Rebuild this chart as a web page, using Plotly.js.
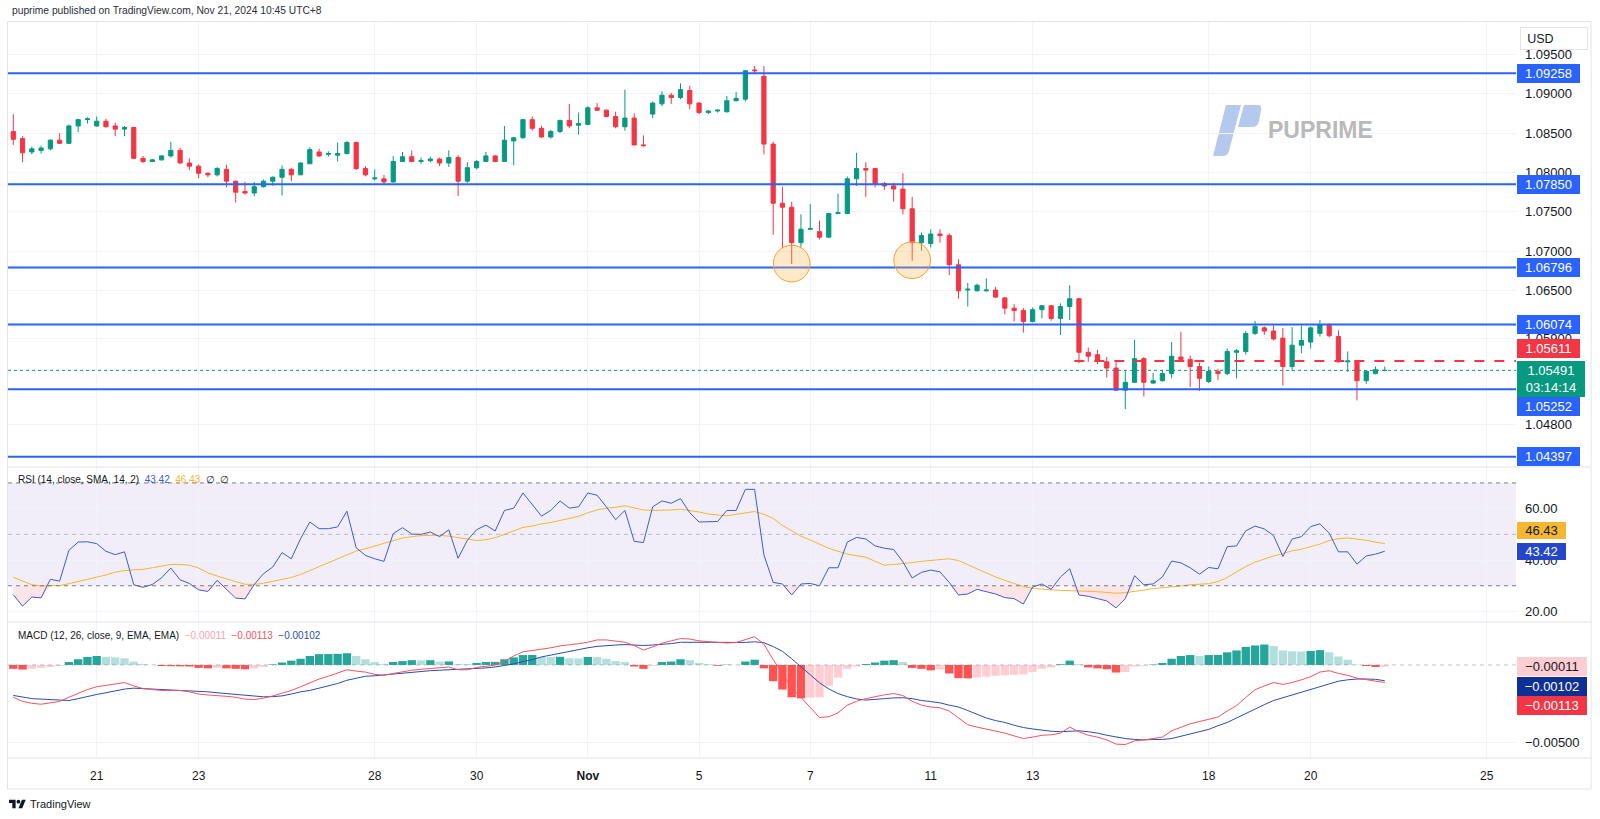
<!DOCTYPE html>
<html><head><meta charset="utf-8">
<script src="https://cdn.plot.ly/plotly-3.0.1.min.js"></script>
<style>html,body{margin:0;padding:0;background:#fff;}#chart{width:1600px;height:819px;}</style>
</head><body><div id="chart"></div>
<script>
// ---- EURUSD 4H candles (Oct 17 17:00 -> Nov 21 10:00, UTC+8) ----
const opens = [1.0852,1.0843,1.0826,1.0828,1.0830,1.0841,1.0837,1.0859,1.0867,1.0859,
1.0865,1.0859,1.0855,1.0857,1.0818,1.0814,1.0816,1.0821,1.0828,1.0812,
1.0808,1.0799,1.0797,1.0804,1.0789,1.0776,1.0774,1.0782,1.0789,1.0794,
1.0804,1.0797,1.0811,1.0826,1.0823,1.0822,1.0824,1.0838,1.0805,1.0792,
1.0792,1.0788,1.0814,1.0820,1.0814,1.0815,1.0817,1.0812,1.0819,1.0789,
1.0806,1.0814,1.0821,1.0814,1.0840,1.0844,1.0867,1.0856,1.0845,1.0852,
1.0866,1.0860,1.0861,1.0882,1.0879,1.0871,1.0858,1.0869,1.0835,1.0874,
1.0887,1.0898,1.0895,1.0904,1.0888,1.0876,1.0878,1.0877,1.0891,1.0893,
1.0930,1.0922,1.0836,1.0761,1.0756,1.0711,1.0728,1.0725,1.0718,1.0748,
1.0748,1.0792,1.0805,1.0805,1.0786,1.0783,1.0779,1.0754,1.0711,1.0710,
1.0722,1.0720,1.0683,1.0651,1.0650,1.0650,1.0651,1.0641,1.0628,1.0625,
1.0611,1.0626,1.0631,1.0615,1.0630,1.0640,1.0572,1.0569,1.0560,1.0552,
1.0524,1.0534,1.0564,1.0533,1.0536,1.0545,1.0566,1.0563,1.0554,1.0535,
1.0548,1.0545,1.0572,1.0573,1.0596,1.0603,1.0599,1.0590,1.0554,1.0581,
1.0585,1.0596,1.0606,1.0592,1.0560,1.0561,1.0536,1.0545,1.0549];
const highs = [1.0874,1.0846,1.0833,1.0834,1.0842,1.0850,1.0861,1.0868,1.0870,1.0871,
1.0868,1.0863,1.0859,1.0858,1.0821,1.0817,1.0822,1.0839,1.0831,1.0818,
1.0810,1.0800,1.0807,1.0810,1.0790,1.0788,1.0788,1.0791,1.0795,1.0809,
1.0806,1.0813,1.0832,1.0830,1.0827,1.0838,1.0840,1.0839,1.0808,1.0804,
1.0797,1.0821,1.0826,1.0828,1.0819,1.0820,1.0819,1.0828,1.0822,1.0813,
1.0816,1.0826,1.0822,1.0859,1.0845,1.0868,1.0871,1.0859,1.0854,1.0867,
1.0887,1.0876,1.0884,1.0888,1.0880,1.0877,1.0905,1.0875,1.0847,1.0890,
1.0903,1.0901,1.0913,1.0910,1.0889,1.0879,1.0880,1.0897,1.0902,1.0930,
1.0935,1.0935,1.0839,1.0782,1.0763,1.0747,1.0760,1.0739,1.0749,1.0773,
1.0795,1.0825,1.0813,1.0806,1.0788,1.0787,1.0799,1.0769,1.0724,1.0728,
1.0728,1.0723,1.0690,1.0660,1.0659,1.0666,1.0655,1.0642,1.0633,1.0628,
1.0629,1.0632,1.0632,1.0634,1.0657,1.0641,1.0578,1.0575,1.0566,1.0562,
1.0549,1.0588,1.0566,1.0546,1.0550,1.0585,1.0598,1.0568,1.0559,1.0554,
1.0551,1.0577,1.0576,1.0599,1.0612,1.0605,1.0606,1.0603,1.0604,1.0606,
1.0605,1.0613,1.0609,1.0600,1.0573,1.0562,1.0549,1.0554,1.0554];
const lows = [1.0835,1.0813,1.0823,1.0824,1.0828,1.0836,1.0836,1.0851,1.0862,1.0858,
1.0857,1.0846,1.0846,1.0817,1.0812,1.0813,1.0815,1.0819,1.0811,1.0803,
1.0793,1.0794,1.0795,1.0781,1.0762,1.0772,1.0770,1.0781,1.0783,1.0771,
1.0789,1.0797,1.0811,1.0820,1.0820,1.0814,1.0823,1.0803,1.0795,1.0790,
1.0785,1.0787,1.0813,1.0813,1.0811,1.0813,1.0808,1.0807,1.0770,1.0787,
1.0804,1.0814,1.0813,1.0814,1.0809,1.0843,1.0853,1.0844,1.0843,1.0850,
1.0856,1.0848,1.0860,1.0878,1.0870,1.0856,1.0853,1.0834,1.0833,1.0869,
1.0884,1.0887,1.0893,1.0880,1.0874,1.0874,1.0876,1.0876,1.0890,1.0890,
1.0925,1.0823,1.0721,1.0704,1.0684,1.0705,1.0727,1.0715,1.0717,1.0747,
1.0747,1.0783,1.0769,1.0781,1.0778,1.0763,1.0747,1.0688,1.0701,1.0705,
1.0711,1.0670,1.0640,1.0630,1.0649,1.0649,1.0641,1.0620,1.0611,1.0597,
1.0610,1.0615,1.0612,1.0594,1.0613,1.0558,1.0560,1.0557,1.0540,1.0523,
1.0500,1.0533,1.0516,1.0532,1.0535,1.0539,1.0560,1.0528,1.0523,1.0533,
1.0537,1.0543,1.0539,1.0569,1.0594,1.0594,1.0587,1.0530,1.0549,1.0571,
1.0577,1.0592,1.0591,1.0559,1.0547,1.0511,1.0532,1.0544,1.0548];
const closes = [1.0842,1.0825,1.0830,1.0831,1.0841,1.0837,1.0859,1.0867,1.0868,1.0865,
1.0858,1.0855,1.0857,1.0818,1.0814,1.0816,1.0821,1.0828,1.0812,1.0808,
1.0799,1.0797,1.0805,1.0789,1.0775,1.0774,1.0782,1.0789,1.0794,1.0804,
1.0797,1.0812,1.0829,1.0821,1.0824,1.0824,1.0838,1.0805,1.0797,1.0793,
1.0788,1.0814,1.0820,1.0814,1.0815,1.0817,1.0812,1.0819,1.0789,1.0806,
1.0814,1.0821,1.0814,1.0841,1.0844,1.0867,1.0856,1.0845,1.0852,1.0866,
1.0859,1.0862,1.0882,1.0879,1.0871,1.0858,1.0869,1.0835,1.0834,1.0888,
1.0898,1.0895,1.0905,1.0887,1.0876,1.0878,1.0879,1.0891,1.0894,1.0929,
1.0929,1.0836,1.0761,1.0756,1.0711,1.0728,1.0729,1.0718,1.0748,1.0749,
1.0792,1.0805,1.0803,1.0786,1.0783,1.0779,1.0754,1.0711,1.0720,1.0722,
1.0720,1.0683,1.0650,1.0652,1.0657,1.0651,1.0642,1.0628,1.0625,1.0611,
1.0626,1.0631,1.0615,1.0630,1.0640,1.0572,1.0567,1.0561,1.0552,1.0524,
1.0534,1.0564,1.0534,1.0536,1.0545,1.0567,1.0563,1.0554,1.0539,1.0548,
1.0545,1.0573,1.0574,1.0596,1.0605,1.0599,1.0589,1.0554,1.0581,1.0587,
1.0603,1.0607,1.0593,1.0560,1.0561,1.0536,1.0548,1.0550,1.05491];

// ---- RSI (14) and its SMA(14) ----
const rsi = [26.5,22.1,25.6,25.3,32.5,31.8,43.8,47.0,47.1,46.4,
43.4,42.1,43.2,30.4,29.4,30.5,33.1,36.9,32.3,30.9,
28.4,27.8,32.1,28.8,25.2,24.9,30.5,34.7,37.3,42.9,
40.5,48.3,54.8,52.2,52.2,52.9,59.0,44.8,41.8,40.5,
39.5,50.3,52.6,50.1,50.0,50.9,49.1,51.8,40.7,47.7,
51.8,53.6,51.3,59.3,60.2,66.1,61.6,57.1,59.3,63.0,
60.2,60.7,66.1,65.2,60.7,55.7,59.3,47.3,46.8,60.7,
63.0,62.1,63.9,58.4,54.8,54.8,55.0,59.3,59.3,67.5,
67.5,42.0,31.3,30.7,26.4,30.7,30.9,30.0,37.0,37.0,
47.0,48.8,48.2,45.5,44.6,44.1,39.3,33.0,35.2,36.1,
35.4,31.3,26.4,26.8,28.6,27.7,26.8,25.4,25.0,22.9,
29.5,30.7,28.6,33.4,36.6,26.4,25.9,25.0,24.1,21.4,
25.0,33.9,30.4,30.7,33.4,39.6,38.9,37.0,34.5,37.1,
36.6,45.2,45.5,51.4,53.2,52.1,49.5,41.4,48.2,49.1,
53.0,54.1,50.5,43.2,43.2,38.4,41.6,42.3,43.42];
const rsiMa = [33.3,31.7,30.4,29.9,29.9,30.1,30.8,31.6,32.4,33.4,
34.2,35.3,35.9,36.2,36.4,37.0,37.7,38.3,38.3,38.0,
36.9,35.0,33.8,32.6,31.6,30.6,30.5,31.0,31.7,32.4,
33.2,34.4,35.9,37.7,39.1,40.6,42.0,43.5,44.4,45.4,
46.5,47.7,48.6,49.1,49.5,49.6,49.6,49.3,48.7,48.0,
47.6,47.9,48.7,50.0,51.4,52.7,53.2,54.1,54.6,55.4,
56.2,57.0,58.4,59.5,60.2,60.5,61.1,60.2,59.5,59.3,
59.3,59.5,59.8,59.3,58.7,57.9,57.5,57.2,57.8,58.4,
58.9,57.8,56.2,53.5,51.5,49.3,47.8,46.2,44.6,43.4,
42.3,41.7,41.1,39.5,38.0,38.3,38.6,39.0,39.5,39.8,
40.3,40.5,39.8,38.2,36.4,34.9,33.4,32.1,30.8,29.7,
29.0,28.6,28.4,28.2,28.1,28.0,27.9,27.7,27.4,27.1,
27.3,27.7,28.3,28.9,29.2,29.5,29.9,30.4,30.5,30.8,
31.6,33.2,35.4,37.5,39.2,40.5,41.6,42.5,43.6,44.2,
45.2,46.2,47.6,48.3,48.6,48.2,47.7,47.0,46.43];

// ---- MACD (12, 26, 9), values in units of 0.001 ----
const macdLine = [-2.09,-2.36,-2.48,-2.54,-2.45,-2.36,-2.09,-1.83,-1.59,-1.41,
-1.32,-1.23,-1.14,-1.35,-1.53,-1.59,-1.65,-1.65,-1.65,-1.74,
-1.88,-1.94,-1.97,-2.03,-2.09,-2.21,-2.24,-2.15,-2.00,-1.82,
-1.65,-1.41,-1.14,-0.91,-0.73,-0.52,-0.31,-0.40,-0.46,-0.61,
-0.67,-0.55,-0.43,-0.34,-0.28,-0.22,-0.16,-0.13,-0.31,-0.31,
-0.16,-0.07,-0.01,0.25,0.58,0.85,0.93,1.02,1.11,1.23,
1.29,1.38,1.47,1.62,1.62,1.53,1.47,1.26,0.96,1.17,
1.41,1.56,1.71,1.68,1.56,1.51,1.45,1.42,1.45,1.63,
1.83,1.35,0.35,-0.55,-1.50,-2.10,-2.75,-3.40,-3.35,-3.10,
-2.60,-2.35,-2.18,-2.05,-1.93,-1.85,-1.98,-2.35,-2.60,-2.72,
-2.77,-2.98,-3.43,-3.87,-4.02,-4.14,-4.29,-4.41,-4.59,-4.76,
-4.67,-4.55,-4.52,-4.41,-4.02,-4.32,-4.55,-4.67,-4.85,-5.12,
-5.15,-4.91,-4.85,-4.76,-4.67,-4.26,-4.02,-3.81,-3.66,-3.52,
-3.37,-2.98,-2.63,-2.10,-1.60,-1.36,-1.14,-1.26,-1.14,-0.96,
-0.76,-0.46,-0.37,-0.55,-0.67,-0.85,-0.96,-1.05,-1.13];
const signalLine = [-1.97,-2.06,-2.18,-2.21,-2.24,-2.30,-2.30,-2.18,-2.03,-1.91,
-1.80,-1.68,-1.56,-1.50,-1.53,-1.56,-1.59,-1.59,-1.62,-1.68,
-1.71,-1.74,-1.80,-1.85,-1.92,-1.98,-2.03,-2.06,-2.05,-2.00,
-1.88,-1.74,-1.65,-1.50,-1.38,-1.20,-0.99,-0.85,-0.73,-0.70,
-0.64,-0.58,-0.52,-0.49,-0.40,-0.37,-0.34,-0.31,-0.28,-0.25,
-0.25,-0.19,-0.13,-0.04,0.07,0.22,0.34,0.52,0.64,0.79,
0.91,1.02,1.11,1.20,1.26,1.29,1.32,1.29,1.26,1.29,
1.32,1.38,1.47,1.47,1.47,1.47,1.46,1.45,1.45,1.46,
1.50,1.44,1.19,0.88,0.40,-0.10,-0.65,-1.15,-1.55,-1.85,
-2.05,-2.20,-2.27,-2.24,-2.18,-2.13,-2.12,-2.18,-2.30,-2.37,
-2.45,-2.60,-2.72,-2.95,-3.19,-3.43,-3.60,-3.72,-3.90,-4.05,
-4.14,-4.23,-4.29,-4.32,-4.29,-4.26,-4.32,-4.41,-4.55,-4.67,
-4.76,-4.82,-4.85,-4.82,-4.82,-4.76,-4.61,-4.47,-4.32,-4.17,
-3.93,-3.72,-3.43,-3.13,-2.83,-2.57,-2.30,-2.12,-1.91,-1.74,
-1.56,-1.38,-1.20,-1.05,-0.96,-0.91,-0.91,-0.93,-1.02];
const histogram = [-0.25,-0.30,-0.25,-0.20,-0.13,-0.07,0.19,0.37,0.52,0.58,
0.52,0.49,0.43,0.22,0.07,0.01,-0.07,-0.08,-0.09,-0.10,
-0.19,-0.22,-0.19,-0.22,-0.25,-0.28,-0.22,-0.13,0.04,0.16,
0.28,0.40,0.58,0.70,0.71,0.72,0.76,0.58,0.37,0.19,
0.07,0.19,0.25,0.31,0.30,0.31,0.22,0.23,0.07,0.06,
0.13,0.19,0.20,0.37,0.49,0.64,0.65,0.52,0.51,0.53,
0.43,0.42,0.52,0.51,0.40,0.25,0.19,-0.10,-0.25,-0.05,
0.19,0.22,0.37,0.31,0.13,0.05,-0.05,0.02,0.01,0.22,
0.34,-0.22,-1.05,-1.59,-2.09,-2.16,-2.12,-2.09,-1.35,-0.82,
-0.25,-0.10,0.06,0.16,0.28,0.31,0.19,-0.19,-0.25,-0.35,
-0.30,-0.55,-0.85,-0.87,-0.82,-0.76,-0.70,-0.67,-0.64,-0.61,
-0.46,-0.25,-0.16,0.05,0.28,0.05,-0.16,-0.22,-0.28,-0.49,
-0.46,-0.10,-0.05,0.03,0.13,0.40,0.58,0.64,0.58,0.64,
0.65,0.82,0.94,1.17,1.26,1.32,1.23,0.94,0.88,0.87,
0.91,0.96,0.82,0.55,0.34,0.03,-0.07,-0.13,-0.11];

// ---- axis labels, drawn levels and marks ----
const tickIdx = [9,20,39,50,62,74,86,99,110,129,140,159];
const tickText = ['21','23','28','30','<b>Nov</b>','5','7','11','13','18','20','25'];
const priceTicks = [1.095,1.090,1.085,1.080,1.075,1.070,1.065,1.059,1.048];
const rsiTicks = [60,40,20];
const macdTicks = [-5];
const levels = [1.09258,1.07850,1.06796,1.06074,1.05252,1.04397];
const dashedLevel = 1.05611;
const dashedStartIdx = 114.5;
const lastPrice = 1.05491;
const countdown = '03:14:14';
const markIdx = [84, 97];
const markPrice = [1.06845, 1.06888];
const header = 'puprime published on TradingView.com, Nov 21, 2024 10:45 UTC+8';

// ---- build ----
const W = 1600, H = 819, ML = 8, MR = 84, MT = 22, MB = 61;
const PW = W - ML - MR, PH = H - MT - MB;
const px = x => (x - ML) / PW;           // pixel -> paper x
const py = y => (H - MB - y) / PH;       // pixel -> paper y
const xRange = [-0.572, 162.16];
const idx = closes.map((_, i) => i);

const UP = '#089981', DN = '#f23645', BLUE = '#2962ff';
const RSI_C = '#3f5bd6', RSIMA_C = '#f5b731', MACD_C = '#f7525f', SIG_C = '#2c4cae';
const FONT = 'Liberation Sans, Arial, sans-serif';

const histColors = histogram.map((h, i) => {
  const p = i > 0 ? histogram[i - 1] : h;
  if (h >= 0) return h >= p ? '#26a69a' : '#b2dfdb';
  return h <= p ? '#ff5252' : '#ffcdd2';
});

const traces = [
  {type:'candlestick', x: idx, open: opens, high: highs, low: lows, close: closes,
   increasing:{line:{color:UP, width:1}, fillcolor:UP},
   decreasing:{line:{color:DN, width:1}, fillcolor:DN},
   whiskerwidth:0, xaxis:'x', yaxis:'y', hoverinfo:'skip'},
  {type:'scatter', mode:'lines', x: idx, y: rsi.map(() => 30), line:{width:0, color:'rgba(0,0,0,0)'}, yaxis:'y2', hoverinfo:'skip'},
  {type:'scatter', mode:'lines', x: idx, y: rsi.map(v => Math.min(v, 30)), fill:'tonexty',
   fillcolor:'rgba(242,54,69,0.13)', line:{width:0, color:'rgba(0,0,0,0)'}, yaxis:'y2', hoverinfo:'skip'},
  {type:'scatter', mode:'lines', x: idx, y: rsiMa, line:{color:RSIMA_C, width:1}, yaxis:'y2', hoverinfo:'skip'},
  {type:'scatter', mode:'lines', x: idx, y: rsi, line:{color:RSI_C, width:1}, yaxis:'y2', hoverinfo:'skip'},
  {type:'bar', x: idx, y: histogram, marker:{color: histColors, line:{width:0}}, yaxis:'y3', hoverinfo:'skip'},
  {type:'scatter', mode:'lines', x: idx, y: signalLine, line:{color:SIG_C, width:1}, yaxis:'y3', hoverinfo:'skip'},
  {type:'scatter', mode:'lines', x: idx, y: macdLine, line:{color:MACD_C, width:1}, yaxis:'y3', hoverinfo:'skip'}
];

const sepColor = '#e0e3eb', gridColor = '#f0f3fa';
const shapes = [];
shapes.push({type:'rect', xref:'paper', yref:'y2', x0:0, x1:1, y0:30, y1:70, fillcolor:'rgba(126,87,194,0.1)', line:{width:0}, layer:'below'});
[70, 30].forEach(v => shapes.push({type:'line', xref:'paper', yref:'y2', x0:0, x1:1, y0:v, y1:v, line:{color:'#787b86', width:1, dash:'4px,4px'}}));
shapes.push({type:'line', xref:'paper', yref:'y2', x0:0, x1:1, y0:50, y1:50, line:{color:'rgba(120,123,134,0.45)', width:1, dash:'4px,4px'}});
shapes.push({type:'line', xref:'paper', yref:'y3', x0:0, x1:1, y0:0, y1:0, line:{color:'rgba(120,123,134,0.45)', width:1, dash:'4px,4px'}});
levels.forEach(v => shapes.push({type:'line', xref:'paper', yref:'y', x0:0, x1:1, y0:v, y1:v, line:{color:BLUE, width:2}}));
shapes.push({type:'line', xref:'x', yref:'y', x0:dashedStartIdx, x1:xRange[1], y0:dashedLevel, y1:dashedLevel, line:{color:DN, width:2, dash:'10px,10px'}});
shapes.push({type:'line', xref:'paper', yref:'y', x0:0, x1:1, y0:lastPrice, y1:lastPrice, line:{color:UP, width:1, dash:'dot'}});
const rIdx = 1.98, rPrice = 0.00233;
markIdx.forEach((m, k) => shapes.push({type:'circle', xref:'x', yref:'y', x0:m - rIdx, x1:m + rIdx,
  y0:markPrice[k] - rPrice, y1:markPrice[k] + rPrice, fillcolor:'rgba(255,183,77,0.3)', line:{color:'#f5a030', width:1}}));
const xEnd = px(1591);
[467, 622, 758].forEach(y => shapes.push({type:'line', xref:'paper', yref:'paper', x0:0, x1:xEnd, y0:py(y), y1:py(y), line:{color:sepColor, width:1}}));
shapes.push({type:'rect', xref:'paper', yref:'paper', x0:px(7.5), x1:xEnd, y0:py(789), y1:py(21.5), line:{color:sepColor, width:1}, fillcolor:'rgba(0,0,0,0)'});

const ann = [];
const boxX = px(1517);
function box(text, yref, y, bg, fg, w, h, extra) {
  ann.push(Object.assign({xref:'paper', x:boxX, xanchor:'left', yref:yref, y:y, yanchor:'middle', text:text,
    showarrow:false, bgcolor:bg, font:{family:FONT, size:13, color:fg},
    width:w, height:h, borderpad:0, borderwidth:0, align:'center'}, extra || {}));
}
levels.forEach(v => box(v.toFixed(5), 'y', v, BLUE, '#ffffff', 63, 19, v === 1.05252 ? {yshift:-17.5} : {}));
box(dashedLevel.toFixed(5), 'y', dashedLevel, DN, '#ffffff', 63, 19, {yshift:12});
box(lastPrice.toFixed(5) + '<br>' + countdown, 'y', lastPrice, UP, '#ffffff', 68, 36, {yanchor:'top', yshift:9.5});
box(rsiMa[rsiMa.length - 1].toFixed(2), 'y2', rsiMa[rsiMa.length - 1], RSIMA_C, '#131722', 49, 17, {yshift:12.8});
box(rsi[rsi.length - 1].toFixed(2), 'y2', rsi[rsi.length - 1], '#2347c8', '#ffffff', 49, 17);
const fmtM = v => (v < 0 ? '\u2212' : '') + Math.abs(v / 1000).toFixed(5);
const hLast = histogram[histogram.length - 1], mLast = macdLine[macdLine.length - 1], sLast = signalLine[signalLine.length - 1];
box(fmtM(hLast), 'y3', hLast, '#ffcdd2', '#131722', 70, 19);
box(fmtM(sLast), 'y3', sLast, '#0e2f94', '#ffffff', 70, 19, {yshift:-5.5});
box(fmtM(mLast), 'y3', mLast, DN, '#ffffff', 70, 19, {yshift:-23});
ann.push({xref:'paper', yref:'paper', x:px(1520), xanchor:'left', y:py(38.5), yanchor:'middle', text:'\u2002USD', showarrow:false,
  width:66, height:21, align:'left', bgcolor:'#ffffff', bordercolor:'#e0e3eb', borderwidth:1, borderpad:0,
  font:{family:FONT, size:12.5, color:'#131722'}});
const sp = '\u00a0\u00a0';
ann.push({xref:'paper', yref:'paper', x:px(16), xanchor:'left', y:py(480), yanchor:'middle', showarrow:false, align:'left',
  text:'RSI (14, close, SMA, 14, 2)' + sp + '<span style="color:' + RSI_C + '">' + rsi[rsi.length - 1].toFixed(2) + '</span>' + sp +
       '<span style="color:' + RSIMA_C + '">' + rsiMa[rsiMa.length - 1].toFixed(2) + '</span>' + sp + '\u2205' + sp + '\u2205',
  font:{family:FONT, size:10, color:'#131722'}});
ann.push({xref:'paper', yref:'paper', x:px(16), xanchor:'left', y:py(635.4), yanchor:'middle', showarrow:false, align:'left',
  text:'MACD (12, 26, close, 9, EMA, EMA)' + sp + '<span style="color:#f7a6ad">' + fmtM(hLast) + '</span>' + sp +
       '<span style="color:' + MACD_C + '">' + fmtM(mLast) + '</span>' + sp + '<span style="color:' + SIG_C + '">' + fmtM(sLast) + '</span>',
  font:{family:FONT, size:10, color:'#131722'}});
ann.push({xref:'paper', yref:'paper', x:px(10), xanchor:'left', y:py(10.5), yanchor:'middle', showarrow:false, text:header,
  font:{family:FONT, size:10.25, color:'#2a2e39'}});
ann.push({xref:'paper', yref:'paper', x:px(28), xanchor:'left', y:py(804), yanchor:'middle', showarrow:false, text:'TradingView',
  font:{family:FONT, size:11, color:'#131722'}});
ann.push({xref:'paper', yref:'paper', x:px(1266), xanchor:'left', y:py(130), yanchor:'middle', showarrow:false, text:'<b>PUPRIME</b>',
  font:{family:FONT, size:23, color:'#b9b9b9'}});

const logoSvg = '<svg xmlns="http://www.w3.org/2000/svg" viewBox="0 0 49 51">' +
  '<path d="M13 0 H28 L16 46 Q15 51 9 51 H0 Z" fill="#b5c8ee"/>' +
  '<path d="M31 0 H45 Q49 0 48 5 L46 16 Q45 22 39 22 H25 Z" fill="#b5c8ee"/></svg>';
const tvSvg = '<svg xmlns="http://www.w3.org/2000/svg" viewBox="0 0 36 28">' +
  '<path d="M14 22H7V11H0V4h14v18z" fill="#131722"/><circle cx="20" cy="8" r="4" fill="#131722"/>' +
  '<path d="M28 22h-8l7.5-18h8L28 22z" fill="#131722"/></svg>';
const images = [
  {source:'data:image/svg+xml;charset=utf-8,' + encodeURIComponent(logoSvg), xref:'paper', yref:'paper',
   x:px(1213), y:py(105), sizex:49 / PW, sizey:51 / PH, xanchor:'left', yanchor:'top', sizing:'stretch', layer:'below'},
  {source:'data:image/svg+xml;charset=utf-8,' + encodeURIComponent(tvSvg), xref:'paper', yref:'paper',
   x:px(9), y:py(798), sizex:17 / PW, sizey:13 / PH, xanchor:'left', yanchor:'top', sizing:'stretch', layer:'above'}
];

const axFont = {family:FONT, size:13, color:'#131722'};
const layout = {
  width:W, height:H, margin:{l:ML, r:MR, t:MT, b:MB, autoexpand:false},
  paper_bgcolor:'#ffffff', plot_bgcolor:'#ffffff', showlegend:false, hovermode:false,
  boxgap:0.35, bargap:0.1,
  font:{family:FONT, color:'#131722'},
  xaxis:{range:xRange, tickvals:tickIdx, ticktext:tickText, showgrid:true, gridcolor:gridColor, zeroline:false,
    rangeslider:{visible:false}, ticks:'', ticklabelstandoff:9, anchor:'y3', showline:false,
    tickfont:{family:FONT, size:12, color:'#131722'}, fixedrange:true},
  yaxis:{domain:[py(467), 1], range:[1.04266, 1.09908], side:'right', anchor:'x', tickvals:priceTicks,
    ticktext:priceTicks.map(v => v.toFixed(5)), showgrid:true, gridcolor:gridColor, zeroline:false, ticks:'',
    ticklabelstandoff:8, tickfont:axFont, showline:false},
  yaxis2:{domain:[py(622), py(467)], range:[15.9, 76.2], side:'right', anchor:'x', tickvals:rsiTicks,
    ticktext:rsiTicks.map(v => v.toFixed(2)), showgrid:true, gridcolor:gridColor, zeroline:false, ticks:'',
    ticklabelstandoff:8, tickfont:axFont},
  yaxis3:{domain:[0, py(622)], range:[-6.02, 2.78], side:'right', anchor:'x', tickvals:macdTicks,
    ticktext:macdTicks.map(fmtM), showgrid:true, gridcolor:gridColor, zeroline:false, ticks:'',
    ticklabelstandoff:8, tickfont:axFont},
  shapes:shapes, annotations:ann, images:images
};
Plotly.newPlot('chart', traces, layout, {staticPlot:true, displayModeBar:false});
</script></body></html>
